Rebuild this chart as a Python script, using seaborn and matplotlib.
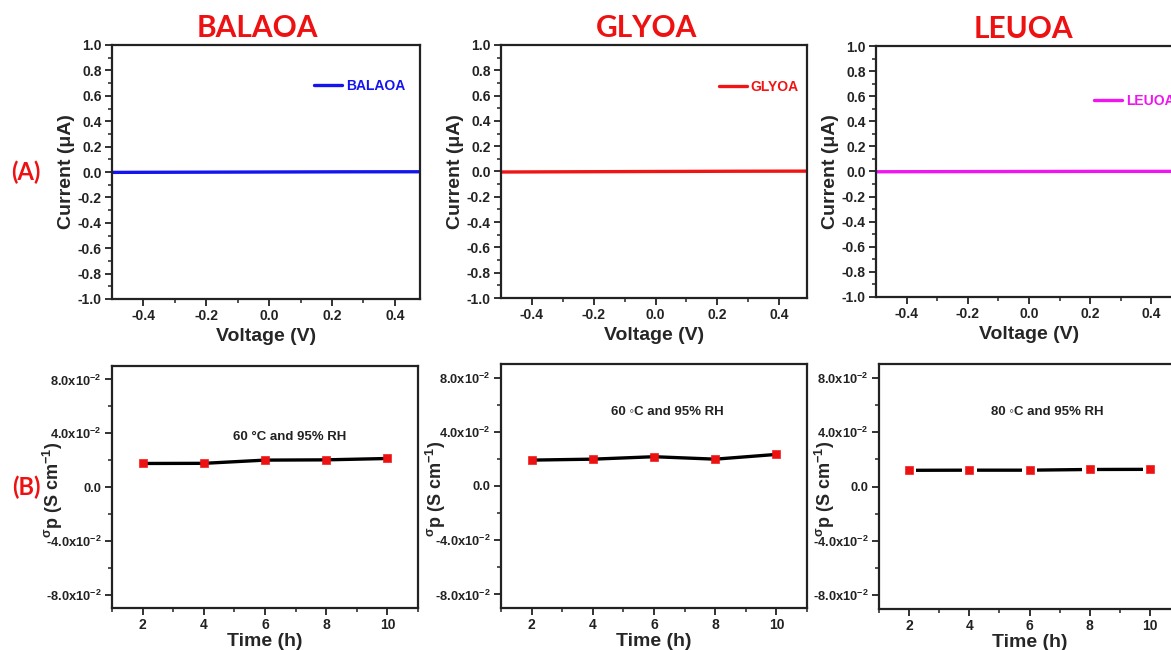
import numpy as np
import pandas as pd
import matplotlib
matplotlib.use("Agg")
import matplotlib.pyplot as plt
from matplotlib.ticker import MultipleLocator, FixedLocator, FuncFormatter
import seaborn as sns

# ---------------- data ----------------
samples = ["BALAOA", "GLYOA", "LEUOA"]
iv_colors = ["#1414f0", "#f01414", "#f014f0"]
voltage = [-0.5, -0.25, 0.0, 0.25, 0.5]
current_balaoa = [-0.003, -0.0015, 0.0, 0.0015, 0.002]
current_glyoa = [-0.004, -0.002, 0.0, 0.002, 0.003]
current_leuoa = [-0.002, -0.001, 0.0, 0.001, 0.001]
currents = [current_balaoa, current_glyoa, current_leuoa]

time_h = [2, 4, 6, 8, 10]
sigma_balaoa = [0.0175, 0.0176, 0.0200, 0.0202, 0.0212]
sigma_glyoa = [0.0191, 0.0198, 0.0216, 0.0198, 0.0233]
sigma_leuoa = [0.0119, 0.0120, 0.0120, 0.0125, 0.0126]
sigmas = [sigma_balaoa, sigma_glyoa, sigma_leuoa]
conditions = ["60 °C and 95% RH", "60 ◦C and 95% RH", "80 ◦C and 95% RH"]

# ---------------- style ----------------
sns.set_theme(style="ticks")
plt.rcParams["font.family"] = ["Liberation Sans", "DejaVu Sans"]
plt.rcParams["font.weight"] = "bold"
plt.rcParams["mathtext.fontset"] = "custom"
plt.rcParams["mathtext.rm"] = "Liberation Sans:bold"
plt.rcParams["mathtext.it"] = "Liberation Sans:bold"
plt.rcParams["mathtext.bf"] = "Liberation Sans:bold"
plt.rcParams["mathtext.default"] = "bf"

W, H = 1171, 650
fig = plt.figure(figsize=(W / 100, H / 100), dpi=100)


def px_axes(l, r, t, b):
    return fig.add_axes([l / W, 1 - b / H, (r - l) / W, (b - t) / H])


def style_axes(ax, ylabsize=10):
    for s in ax.spines.values():
        s.set_linewidth(1.6)
        s.set_color("#222222")
    ax.tick_params(which="major", direction="out", length=5, width=1.3,
                   labelsize=10, colors="#222222", pad=2.5)
    ax.tick_params(axis="y", which="major", labelsize=ylabsize)
    ax.tick_params(which="minor", direction="out", length=3, width=1.1,
                   colors="#222222")
    for lab in ax.get_xticklabels() + ax.get_yticklabels():
        lab.set_fontweight("bold")


top_boxes = [(112, 420, 45, 299), (501, 807, 45, 298), (876, 1182, 46, 297)]
top_xlims = [(-0.5, 0.48), (-0.5, 0.49), (-0.5, 0.5)]
legend_pos = [(0.656, 0.839), (0.712, 0.834), (0.712, 0.781)]

for i in range(3):
    ax = px_axes(*top_boxes[i])
    df = pd.DataFrame({"Voltage": voltage, "Current": currents[i]})
    sns.lineplot(data=df, x="Voltage", y="Current", ax=ax, color=iv_colors[i],
                 lw=2.4, label=samples[i])
    ax.set_xlim(*top_xlims[i])
    ax.set_ylim(-1.0, 1.0)
    ax.xaxis.set_major_locator(FixedLocator([-0.4, -0.2, 0.0, 0.2, 0.4]))
    ax.xaxis.set_minor_locator(FixedLocator([-0.3, -0.1, 0.1, 0.3]))
    ax.yaxis.set_major_locator(MultipleLocator(0.2))
    ax.yaxis.set_minor_locator(MultipleLocator(0.1))
    ax.xaxis.set_major_formatter(FuncFormatter(lambda v, p: f"{v:.1f}"))
    ax.yaxis.set_major_formatter(FuncFormatter(lambda v, p: f"{v:.1f}"))
    ax.set_xlabel("Voltage (V)", fontsize=14, fontweight="bold", labelpad=3)
    ax.set_ylabel("Current (μA)", fontsize=14, fontweight="bold", labelpad=2)
    style_axes(ax)
    leg = ax.legend(loc="center left", bbox_to_anchor=legend_pos[i],
                    frameon=False, handlelength=2.0, handletextpad=0.3,
                    borderpad=0, borderaxespad=0,
                    prop={"weight": "bold", "size": 10})
    for t in leg.get_texts():
        t.set_color(iv_colors[i])
    fig.text([257, 647, 1023][i] / W, 1 - [28, 28, 29][i] / H, samples[i],
             color="#ee1111", fontsize=21.5, fontweight="bold",
             family=["Lato", "DejaVu Sans"], ha="center", va="center")

bot_boxes = [(112, 418, 366, 608), (501, 807, 364, 608), (879, 1180, 364, 609)]
ann_pos = [(6.8, 0.037), (6.45, 0.0548), (6.58, 0.055)]
ylab_x = [-0.152, -0.172, -0.14]


def sci_fmt(v, p):
    if abs(v) < 1e-12:
        return "0.0"
    m = v / 1e-2
    return f"{m:.1f}x10$^{{-2}}$"


for i in range(3):
    ax = px_axes(*bot_boxes[i])
    df = pd.DataFrame({"Time": time_h, "Sigma": sigmas[i]})
    sns.lineplot(data=df, x="Time", y="Sigma", ax=ax, color="black", lw=2.4)
    if i == 2:
        sns.scatterplot(data=df, x="Time", y="Sigma", ax=ax, marker="s",
                        s=110, color="white", edgecolor="none", zorder=3)
    sns.scatterplot(data=df, x="Time", y="Sigma", ax=ax, marker="s", s=30,
                    color="#ee1111", edgecolor="#ee1111", zorder=4)
    ax.set_xlim(1, 11)
    ax.set_ylim(-0.09, 0.09)
    ax.xaxis.set_major_locator(FixedLocator([2, 4, 6, 8, 10]))
    ax.xaxis.set_minor_locator(FixedLocator([1, 3, 5, 7, 9, 11]))
    ax.yaxis.set_major_locator(FixedLocator([-0.08, -0.04, 0.0, 0.04, 0.08]))
    ax.yaxis.set_minor_locator(FixedLocator([-0.06, -0.02, 0.02, 0.06]))
    ax.yaxis.set_major_formatter(FuncFormatter(sci_fmt))
    ax.set_xlabel("Time (h)", fontsize=14, fontweight="bold", labelpad=1)
    ax.set_ylabel(r"$^{\sigma}$p (S cm$^{-1}$)", fontsize=13,
                  fontweight="bold")
    ax.yaxis.set_label_coords(ylab_x[i], 0.49)
    style_axes(ax, ylabsize=9.3)
    ax.tick_params(axis="x", which="major", pad=2)
    ax.text(ann_pos[i][0], ann_pos[i][1], conditions[i], ha="center",
            va="center", fontsize=9.5, fontweight="bold", color="#222222")

fig.text(26 / W, 1 - 172 / H, "(A)", color="#ee1111", fontsize=17,
         fontweight="bold", family=["Lato", "DejaVu Sans"], ha="center",
         va="center")
fig.text(26 / W, 1 - 487 / H, "(B)", color="#ee1111", fontsize=17,
         fontweight="bold", family=["Lato", "DejaVu Sans"], ha="center",
         va="center")

fig.savefig("out.png", dpi=100, facecolor="white")
